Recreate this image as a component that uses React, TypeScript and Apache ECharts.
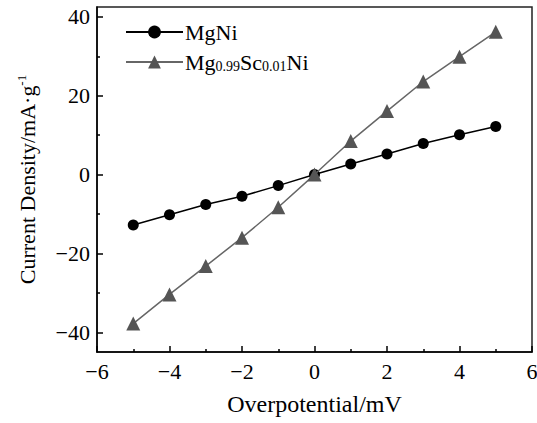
import React, { useEffect, useRef } from "react";
import * as echarts from "echarts";

const xValues = [-5, -4, -3, -2, -1, 0, 1, 2, 3, 4, 5];
const mgNi = [-12.8, -10.2, -7.6, -5.5, -2.8, 0, 2.7, 5.2, 7.9, 10.1, 12.2];
const mgScNi = [-37.8, -30.4, -23.2, -16, -8.3, 0, 8.5, 16.1, 23.6, 29.9, 36.2];
const yMajorTicks = [-40, -20, 0, 20, 40];
const yMinorTicks = [-30, -10, 10, 30];
const seriesNames = ["MgNi", "Mg0.99Sc0.01Ni"];

const FONT = "'Liberation Serif', 'DejaVu Serif', serif";

const minus = (v: number) => String(v).replace("-", "\u2212");

export default function App() {
  const ref = useRef<HTMLDivElement>(null);
  useEffect(() => {
    if (!ref.current) return;
    const chart = echarts.init(ref.current, null, { renderer: "svg" });
    chart.setOption({
      animation: false,
      backgroundColor: "#fff",
      textStyle: { fontFamily: FONT, color: "#000" },
      grid: {
        left: 97,
        top: 7,
        right: 5,
        bottom: 71,
        outerBoundsMode: "none",
        containLabel: false,
        show: true,
        borderColor: "#222",
        borderWidth: 1.5,
        backgroundColor: "transparent",
      },
      legend: {
        orient: "vertical",
        left: 125,
        top: 21,
        padding: 0,
        itemGap: 8,
        itemWidth: 57,
        itemHeight: 16,
        data: seriesNames,
        formatter: (name: string) =>
          name === "MgNi" ? "MgNi" : "Mg{sub|0.99}Sc{sub|0.01}Ni",
        textStyle: {
          fontFamily: FONT,
          fontSize: 22,
          color: "#000",
          padding: [0, 0, 0, -3],
          rich: {
            sub: { fontFamily: FONT, fontSize: 14, verticalAlign: "bottom", padding: [9, 0, 0, 0] },
          },
        },
      },
      xAxis: {
        type: "value",
        min: -6,
        max: 6,
        interval: 2,
        name: "Overpotential/mV",
        nameLocation: "middle",
        nameGap: 40,
        nameTextStyle: { fontFamily: FONT, fontSize: 24, color: "#000" },
        axisLine: { show: true, onZero: false, lineStyle: { color: "#000", width: 1.5 } },
        axisTick: { show: true, inside: true, length: 6, lineStyle: { color: "#000", width: 1.5 } },
        minorTick: { show: true, splitNumber: 2, length: 3, lineStyle: { color: "#000", width: 1.5 } },
        splitLine: { show: false },
        axisLabel: {
          fontFamily: FONT,
          fontSize: 22,
          color: "#000",
          margin: 8,
          formatter: (v: number) => minus(v),
        },
      },
      yAxis: [
        {
          type: "value",
          min: -45,
          max: 42.5,
          name: "Current Density/mA·g{sup|-1}",
          nameLocation: "middle",
          nameGap: 58,
          nameRotate: 90,
          nameTextStyle: {
            fontFamily: FONT,
            fontSize: 22,
            color: "#000",
            lineHeight: 24,
            rich: {
              sup: { fontFamily: FONT, fontSize: 13, verticalAlign: "top", lineHeight: 24, padding: [0, 0, 10, 0] },
            },
          },
          axisLine: { show: true, onZero: false, lineStyle: { color: "#000", width: 1.5 } },
          axisTick: {
            show: true,
            inside: true,
            length: 6,
            customValues: yMajorTicks,
            lineStyle: { color: "#000", width: 1.5 },
          },
          splitLine: { show: false },
          axisLabel: {
            fontFamily: FONT,
            fontSize: 22,
            color: "#000",
            margin: 7,
            customValues: yMajorTicks,
            formatter: (v: number) => minus(v),
          },
        },
        {
          type: "value",
          min: -45,
          max: 42.5,
          position: "left",
          axisLine: { show: false, onZero: false },
          axisTick: {
            show: true,
            inside: true,
            length: 3,
            customValues: yMinorTicks,
            lineStyle: { color: "#000", width: 1.5 },
          },
          axisLabel: { show: false, customValues: yMinorTicks },
          splitLine: { show: false },
        },
      ],
      series: [
        {
          name: seriesNames[0],
          type: "line",
          data: xValues.map((x, i) => [x, mgNi[i]]),
          symbol: "circle",
          symbolSize: 11,
          lineStyle: { color: "#000", width: 1.5 },
          itemStyle: { color: "#000" },
          z: 3,
        },
        {
          name: seriesNames[1],
          type: "line",
          data: xValues.map((x, i) => [x, mgScNi[i]]),
          symbol: "triangle",
          symbolSize: 14,
          lineStyle: { color: "#666", width: 1.5 },
          itemStyle: { color: "#555" },
          z: 4,
        },
      ],
    });
    return () => chart.dispose();
  }, []);
  return <div ref={ref} style={{ width: 537, height: 423, position: "absolute", left: 0, top: 0 }} />;
}
